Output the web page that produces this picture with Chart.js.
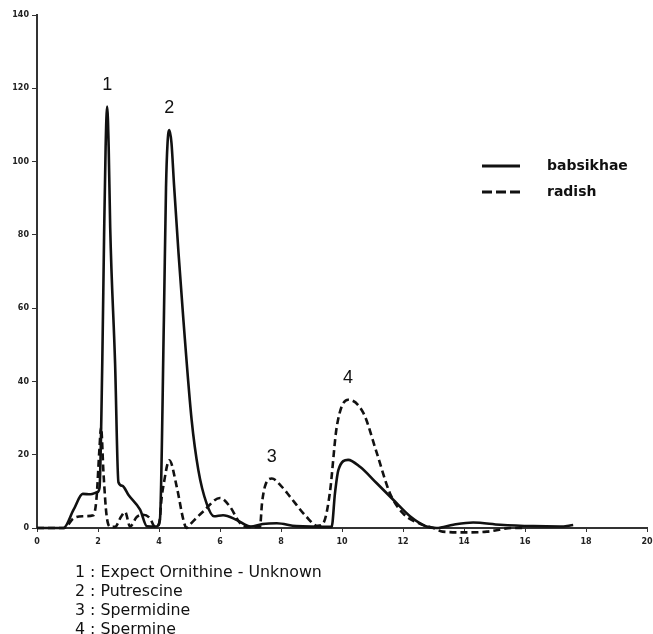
<!DOCTYPE html>
<html>
<head>
<meta charset="utf-8">
<script src="https://cdn.jsdelivr.net/npm/chart.js@4.4.1/dist/chart.umd.min.js"></script>
<style>
  html, body { margin: 0; padding: 0; background: #fff; }
  #wrap { position: relative; width: 653px; height: 634px; }
  #notes { position: absolute; left: 75px; top: 562px; font-family: "DejaVu Sans", sans-serif; font-size: 15.8px; line-height: 19px; color: #111; white-space: pre; }
</style>
</head>
<body>
<div id="wrap">
  <canvas id="c" width="653" height="634"></canvas>
  <div id="notes"></div>
</div>
<script>
// ---- data ----
const seriesNames = ["babsikhae", "radish"];
const babsikhaeX = [0,0.87,1.2,1.5,1.75,1.98,2.05,2.14,2.2,2.25,2.3,2.35,2.4,2.56,2.67,2.8,3.0,3.38,3.6,3.9,4.03,4.16,4.23,4.28,4.34,4.41,4.49,4.64,4.8,5.07,5.29,5.56,5.8,6.1,6.55,7.0,7.4,7.86,8.5,9.66,9.77,9.88,10.2,10.59,11.14,11.68,12.23,12.77,13.1,13.65,14.3,15.18,16.27,17.15,17.58];
const babsikhaeY = [0,0,5,9.3,9.2,9.8,11,45,80,104,115,104,82,45,12.5,11.5,9,5,0.5,0.4,2.2,56.8,93,105,108.6,105,94,75,56.8,29.5,15.8,6.7,3.2,3.5,2.2,0.4,1.1,1.3,0.5,0.3,9.5,15.8,18.6,16.7,12.2,7.7,3.2,0.4,0,0.9,1.5,0.9,0.5,0.4,0.8];
const radishX = [0,0.9,1.19,1.5,1.85,1.95,2.05,2.1,2.18,2.28,2.42,2.56,2.75,2.89,3.05,3.27,3.48,3.7,3.87,4.0,4.09,4.14,4.34,4.58,4.8,4.9,5.02,5.45,6.0,6.33,6.66,6.9,7.31,7.38,7.5,7.7,8.0,8.3,8.84,9.2,9.4,9.6,9.83,10.2,10.7,11.14,11.57,12.0,12.67,13.0,13.3,14.08,14.75,15.6,16.0];
const radishY = [0,0,2.6,3.2,3.5,8,22,27.5,15,3.5,0.3,0.3,3,4.4,0.4,3,3.6,2.7,0.3,1,8.5,11.3,18.5,11.3,2.2,0,1,4.5,8.2,5.8,1.3,0.3,0.3,7,12,13.5,11.5,8.5,3,0.6,1.5,9.5,27.7,35,31.4,20.5,9.5,4,0.8,0,-1,-1.2,-1,0,0];
const xTicks = [0,2,4,6,8,10,12,14,16,18,20];
const yTicks = [0,20,40,60,80,100,120,140];
const peakLabels = ["1","2","3","4"];
const peakX = [2.3, 4.34, 7.7, 10.2];
const peakSeries = [0, 0, 1, 1];
const notes = ["1 : Expect Ornithine - Unknown", "2 : Putrescine", "3 : Spermidine", "4 : Spermine"];

document.getElementById('notes').textContent = notes.join("\n");

function pts(xs, ys) { return xs.map((x, i) => ({x: x, y: ys[i]})); }
const allSeries = [pts(babsikhaeX, babsikhaeY), pts(radishX, radishY)];

const decor = {
  id: 'decor',
  afterDraw(chart) {
    const ctx = chart.ctx, sx = chart.scales.x, sy = chart.scales.y;
    ctx.save();
    // peak labels
    ctx.font = '18px "Liberation Sans", Arial, sans-serif';
    ctx.fillStyle = '#111';
    ctx.textAlign = 'center';
    ctx.textBaseline = 'middle';
    peakLabels.forEach((lab, i) => {
      const s = allSeries[peakSeries[i]];
      let best = s[0];
      s.forEach(p => { if (Math.abs(p.x - peakX[i]) < Math.abs(best.x - peakX[i])) best = p; });
      ctx.fillText(lab, sx.getPixelForValue(peakX[i]), sy.getPixelForValue(best.y) - 22);
    });
    // legend
    const lx0 = 482, lx1 = 520, tx = 547;
    const rows = [166, 192];
    ctx.strokeStyle = '#111';
    ctx.lineWidth = 3.2;
    ctx.font = 'bold 14px "DejaVu Sans", sans-serif';
    ctx.textAlign = 'left';
    seriesNames.forEach((n, i) => {
      ctx.setLineDash(i === 0 ? [] : [10, 4]);
      ctx.beginPath();
      ctx.moveTo(lx0, rows[i]); ctx.lineTo(lx1, rows[i]);
      ctx.stroke();
      ctx.fillText(n, tx, rows[i]);
    });
    ctx.restore();
  }
};

new Chart(document.getElementById('c'), {
  type: 'line',
  data: {
    datasets: [
      { label: seriesNames[0], data: allSeries[0], borderColor: '#111', borderWidth: 2.6, pointRadius: 0, cubicInterpolationMode: 'monotone', fill: false, clip: false },
      { label: seriesNames[1], data: allSeries[1], borderColor: '#111', borderWidth: 2.6, borderDash: [7, 4], pointRadius: 0, cubicInterpolationMode: 'monotone', fill: false, clip: false }
    ]
  },
  options: {
    responsive: false,
    animation: false,
    devicePixelRatio: 1,
    layout: { padding: { top: 15, right: 6, left: 0, bottom: 0 } },
    plugins: { legend: { display: false }, tooltip: { enabled: false } },
    scales: {
      x: {
        type: 'linear', min: 0, max: 20,
        afterBuildTicks: (s) => { s.ticks = xTicks.map(v => ({value: v})); },
        afterFit: (s) => { s.height = 106; s.paddingLeft = 0; s.paddingRight = 0; },
        grid: { drawOnChartArea: false, tickLength: 4, tickColor: '#333', tickWidth: 1 },
        border: { color: '#333', width: 2 },
        ticks: { color: '#222', font: { family: 'DejaVu Sans', size: 8, weight: 'bold' }, padding: 5, maxRotation: 0, autoSkip: false }
      },
      y: {
        min: 0, max: 140,
        afterBuildTicks: (s) => { s.ticks = yTicks.map(v => ({value: v})); },
        afterFit: (s) => { s.width = 37; s.paddingTop = 0; s.paddingBottom = 0; },
        grid: { drawOnChartArea: false, tickLength: 5, tickColor: '#333', tickWidth: 1 },
        border: { color: '#333', width: 2 },
        ticks: { color: '#222', font: { family: 'DejaVu Sans', size: 8, weight: 'bold' }, padding: 3, autoSkip: false }
      }
    }
  },
  plugins: [decor]
});
</script>
</body>
</html>
